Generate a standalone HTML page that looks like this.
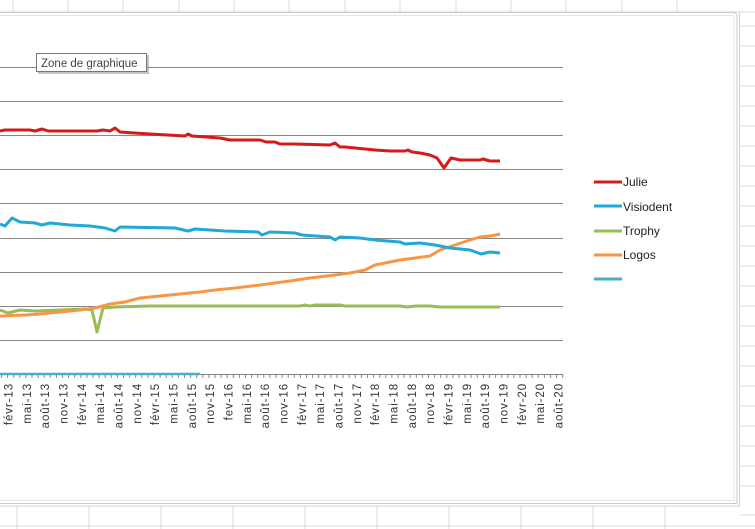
<!DOCTYPE html>
<html><head><meta charset="utf-8"><style>
html,body{margin:0;padding:0;background:#fff;}
svg{display:block;font-family:"Liberation Sans",sans-serif;}
</style></head><body>
<svg width="755" height="529" viewBox="0 0 755 529" xmlns="http://www.w3.org/2000/svg">
<rect width="755" height="529" fill="#fff"/>
<g stroke="#dadada" stroke-width="1">
<line x1="0" y1="12" x2="755" y2="12"/>
<line x1="13" y1="0" x2="13" y2="12"/><line x1="68" y1="0" x2="68" y2="12"/><line x1="123" y1="0" x2="123" y2="12"/><line x1="179" y1="0" x2="179" y2="12"/><line x1="234" y1="0" x2="234" y2="12"/><line x1="289" y1="0" x2="289" y2="12"/><line x1="345" y1="0" x2="345" y2="12"/><line x1="400" y1="0" x2="400" y2="12"/><line x1="456" y1="0" x2="456" y2="12"/><line x1="511" y1="0" x2="511" y2="12"/><line x1="566" y1="0" x2="566" y2="12"/><line x1="622" y1="0" x2="622" y2="12"/><line x1="677" y1="0" x2="677" y2="12"/>
<line x1="17" y1="506" x2="17" y2="529"/><line x1="89" y1="506" x2="89" y2="529"/><line x1="161" y1="506" x2="161" y2="529"/><line x1="233" y1="506" x2="233" y2="529"/><line x1="305" y1="506" x2="305" y2="529"/><line x1="377" y1="506" x2="377" y2="529"/><line x1="449" y1="506" x2="449" y2="529"/><line x1="521" y1="506" x2="521" y2="529"/><line x1="593" y1="506" x2="593" y2="529"/><line x1="665" y1="506" x2="665" y2="529"/>
<line x1="0" y1="526" x2="755" y2="526"/>
<line x1="740" y1="26" x2="755" y2="26"/><line x1="740" y1="46" x2="755" y2="46"/><line x1="740" y1="66" x2="755" y2="66"/><line x1="740" y1="86" x2="755" y2="86"/><line x1="740" y1="106" x2="755" y2="106"/><line x1="740" y1="126" x2="755" y2="126"/><line x1="740" y1="146" x2="755" y2="146"/><line x1="740" y1="166" x2="755" y2="166"/><line x1="740" y1="186" x2="755" y2="186"/><line x1="740" y1="206" x2="755" y2="206"/><line x1="740" y1="226" x2="755" y2="226"/><line x1="740" y1="246" x2="755" y2="246"/><line x1="740" y1="266" x2="755" y2="266"/><line x1="740" y1="286" x2="755" y2="286"/><line x1="740" y1="306" x2="755" y2="306"/><line x1="740" y1="326" x2="755" y2="326"/><line x1="740" y1="346" x2="755" y2="346"/><line x1="740" y1="366" x2="755" y2="366"/><line x1="740" y1="386" x2="755" y2="386"/><line x1="740" y1="406" x2="755" y2="406"/><line x1="740" y1="426" x2="755" y2="426"/><line x1="740" y1="446" x2="755" y2="446"/><line x1="740" y1="466" x2="755" y2="466"/><line x1="740" y1="486" x2="755" y2="486"/><line x1="740" y1="515" x2="755" y2="515"/>
</g>
<path d="M0 12.5 H733 Q737 12.5 737 17 V503.5 H0" fill="#fff" stroke="#c8c8c8" stroke-width="1"/>
<path d="M0 15.5 H733 Q734 15.5 734 17 V500.5 H0" fill="none" stroke="#e4e4e4" stroke-width="1"/>
<line x1="739.5" y1="12" x2="739.5" y2="506" stroke="#d0d0d0"/>
<line x1="0" y1="506" x2="740" y2="506" stroke="#d0d0d0"/>
<g stroke="#868686" stroke-width="1">
<line x1="0" y1="67.5" x2="563" y2="67.5"/><line x1="0" y1="101.5" x2="563" y2="101.5"/><line x1="0" y1="135.5" x2="563" y2="135.5"/><line x1="0" y1="169.5" x2="563" y2="169.5"/><line x1="0" y1="203.5" x2="563" y2="203.5"/><line x1="0" y1="238.5" x2="563" y2="238.5"/><line x1="0" y1="272.5" x2="563" y2="272.5"/><line x1="0" y1="306.5" x2="563" y2="306.5"/><line x1="0" y1="340.5" x2="563" y2="340.5"/><line x1="0" y1="374.5" x2="563" y2="374.5"/>
</g>
<path stroke="#868686" stroke-width="1" fill="none" d="M1.5 374V378M7.6 374V378M13.7 374V378M19.8 374V378M25.9 374V378M32 374V378M38.1 374V378M44.2 374V378M50.3 374V378M56.4 374V378M62.5 374V378M68.6 374V378M74.7 374V378M80.8 374V378M86.9 374V378M93 374V378M99.1 374V378M105.2 374V378M111.3 374V378M117.4 374V378M123.5 374V378M129.6 374V378M135.7 374V378M141.8 374V378M147.9 374V378M154 374V378M160.1 374V378M166.2 374V378M172.3 374V378M178.4 374V378M184.5 374V378M190.6 374V378M196.7 374V378M202.8 374V378M208.9 374V378M215 374V378M221.1 374V378M227.2 374V378M233.3 374V378M239.4 374V378M245.5 374V378M251.6 374V378M257.7 374V378M263.8 374V378M269.9 374V378M276 374V378M282.1 374V378M288.2 374V378M294.3 374V378M300.4 374V378M306.5 374V378M312.6 374V378M318.7 374V378M324.8 374V378M330.9 374V378M337 374V378M343.1 374V378M349.2 374V378M355.3 374V378M361.4 374V378M367.5 374V378M373.6 374V378M379.7 374V378M385.8 374V378M391.9 374V378M398 374V378M404.1 374V378M410.2 374V378M416.3 374V378M422.4 374V378M428.5 374V378M434.6 374V378M440.7 374V378M446.8 374V378M452.9 374V378M459 374V378M465.1 374V378M471.2 374V378M477.3 374V378M483.4 374V378M489.5 374V378M495.6 374V378M501.7 374V378M507.8 374V378M513.9 374V378M520 374V378M526.1 374V378M532.2 374V378M538.3 374V378M544.4 374V378M550.5 374V378M556.6 374V378M562.7 374V378"/>
<g font-size="11.5" fill="#333" text-anchor="end" letter-spacing="0.9">
<text transform="translate(12.5,383) rotate(-90)">févr-13</text>
<text transform="translate(30.8,383) rotate(-90)">mai-13</text>
<text transform="translate(49.2,383) rotate(-90)">août-13</text>
<text transform="translate(67.5,383) rotate(-90)">nov-13</text>
<text transform="translate(85.8,383) rotate(-90)">févr-14</text>
<text transform="translate(104.2,383) rotate(-90)">mai-14</text>
<text transform="translate(122.5,383) rotate(-90)">août-14</text>
<text transform="translate(140.8,383) rotate(-90)">nov-14</text>
<text transform="translate(159.2,383) rotate(-90)">févr-15</text>
<text transform="translate(177.5,383) rotate(-90)">mai-15</text>
<text transform="translate(195.8,383) rotate(-90)">août-15</text>
<text transform="translate(214.2,383) rotate(-90)">nov-15</text>
<text transform="translate(232.5,383) rotate(-90)">fev-16</text>
<text transform="translate(250.8,383) rotate(-90)">mai-16</text>
<text transform="translate(269.2,383) rotate(-90)">août-16</text>
<text transform="translate(287.5,383) rotate(-90)">nov-16</text>
<text transform="translate(305.8,383) rotate(-90)">févr-17</text>
<text transform="translate(324.2,383) rotate(-90)">mai-17</text>
<text transform="translate(342.5,383) rotate(-90)">août-17</text>
<text transform="translate(360.8,383) rotate(-90)">nov-17</text>
<text transform="translate(379.2,383) rotate(-90)">févr-18</text>
<text transform="translate(397.5,383) rotate(-90)">mai-18</text>
<text transform="translate(415.8,383) rotate(-90)">août-18</text>
<text transform="translate(434.2,383) rotate(-90)">nov-18</text>
<text transform="translate(452.5,383) rotate(-90)">févr-19</text>
<text transform="translate(470.8,383) rotate(-90)">mai-19</text>
<text transform="translate(489.2,383) rotate(-90)">août-19</text>
<text transform="translate(507.5,383) rotate(-90)">nov-19</text>
<text transform="translate(525.8,383) rotate(-90)">févr-20</text>
<text transform="translate(544.2,383) rotate(-90)">mai-20</text>
<text transform="translate(562.5,383) rotate(-90)">août-20</text>
</g>
<g fill="none" stroke-width="3" stroke-linejoin="round">
<polyline stroke="#4bacc6" stroke-width="2.5" points="0,374 200,374"/>
<polyline stroke="#9bbb59" points="0,310 8,313 20,310 35,311 60,310 85,309 92,310 97,332 103,308 115,307 150,306 300,306 305,305 310,306 315,305 340,305 345,306 400,306 407,307 415,306 430,306 440,307 500,307"/>
<polyline stroke="#f79646" points="0,316 25,315 40,314 60,312 80,310 95,308 110,304 125,302 140,298 160,296 180,294 200,292 215,290 235,288 260,285 290,281 310,278 335,275 350,273 365,270 375,265 400,260 415,258 430,256 440,250 455,245 470,240 480,237 490,236 500,234"/>
<polyline stroke="#1fa8d8" points="0,224 5,226 12,218 20,222 35,223 42,225 50,223 70,225 90,226 105,228 115,231 120,227 175,228 188,231 195,229 225,231 258,232 262,235 270,232 295,233 302,235 330,237 335,240 340,237 360,238 375,240 400,242 405,244 420,243 435,245 450,248 470,250 481,254 490,252 500,253"/>
<polyline stroke="#d7191c" points="0,131 5,130 30,130 35,131 42,129 48,131 97,131 103,130 110,131 115,128 120,132 150,134 185,136 188,134 192,136 220,138 230,140 260,140 266,142 275,142 280,144 295,144 330,145 335,143 340,147 345,147 375,150 390,151 405,151 408,150 412,152 420,153 430,155 437,158 444,168 451,158 460,160 480,160 483,159 490,161 500,161"/>
</g>
<g stroke-width="3">
<line x1="594" y1="182" x2="622" y2="182" stroke="#d7191c"/>
<line x1="594" y1="206" x2="622" y2="206" stroke="#1fa8d8"/>
<line x1="594" y1="231" x2="622" y2="231" stroke="#9bbb59"/>
<line x1="594" y1="255" x2="622" y2="255" stroke="#f79646"/>
<line x1="594" y1="279" x2="622" y2="279" stroke="#4bacc6"/>
</g>
<g font-size="12" fill="#222">
<text x="623" y="186">Julie</text>
<text x="623" y="211">Visiodent</text>
<text x="623" y="235">Trophy</text>
<text x="623" y="259">Logos</text>
</g>
<rect x="38" y="55" width="111" height="19" fill="#888" opacity="0.5"/>
<rect x="36.5" y="53.5" width="110" height="18" fill="#fff" stroke="#767676"/>
<text x="41" y="67" font-size="11.5" fill="#444">Zone de graphique</text>
</svg>
</body></html>
